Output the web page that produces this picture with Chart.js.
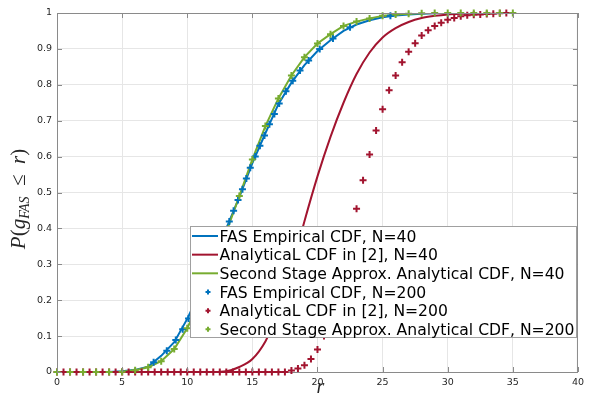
<!DOCTYPE html>
<html>
<head>
<meta charset="utf-8">
<script src="https://cdn.jsdelivr.net/npm/chart.js@4.4.1/dist/chart.umd.min.js"></script>
<style>
html, body { margin: 0; padding: 0; background: #fff; }
</style>
</head>
<body>
<canvas id="cdfChart" width="589" height="400"></canvas>
<script>
// r values for the N=40 curves (lines)
const rLine = [0, 1, 2, 3, 4, 5, 6, 7, 8, 9, 10, 11, 12, 13, 14, 15, 16, 17,
    18, 19, 20, 21, 22, 23, 24, 25, 26, 27, 28, 29, 30, 31, 32, 33, 34, 35];

// FAS Empirical CDF, N=40
const fasEmp40 = [0, 0, 0, 0, 0, 0.002, 0.006, 0.015, 0.045, 0.083, 0.148, 0.225,
    0.31, 0.40, 0.487, 0.582, 0.665, 0.746, 0.806, 0.855, 0.894, 0.924, 0.950,
    0.968, 0.980, 0.988, 0.993, 0.996, 0.998, 0.999, 1, 1, 1, 1, 1, 1];

// AnalyticaL CDF in [2], N=40
const analytic40 = [0, 0, 0, 0, 0, 0, 0, 0, 0, 0, 0, 0, 0, 0.002, 0.014, 0.036,
    0.085, 0.165, 0.285, 0.42, 0.545, 0.655, 0.75, 0.83, 0.89, 0.932, 0.958,
    0.975, 0.986, 0.992, 0.996, 0.998, 0.999, 1, 1, 1];

// Second Stage Approx. Analytical CDF, N=40
const secondStage40 = [0, 0, 0, 0, 0, 0.001, 0.005, 0.013, 0.03, 0.064, 0.122,
    0.20, 0.29, 0.39, 0.49, 0.592, 0.685, 0.762, 0.826, 0.877, 0.915, 0.941,
    0.964, 0.976, 0.985, 0.992, 0.996, 0.998, 0.999, 1, 1, 1, 1, 1, 1, 1];

// FAS Empirical CDF, N=200 (markers)
const fasEmp200R = [7.42, 8.43, 9.12, 9.65, 10.1, 10.5, 10.9, 11.3, 11.65, 12.0,
    12.35, 12.7, 12.95, 13.23, 13.56, 13.9, 14.24, 14.54, 14.84, 15.22, 15.58,
    15.93, 16.31, 16.69, 17.06, 17.58, 18.1, 18.66, 19.32, 20.17, 21.19, 22.5, 25.6];
const fasEmp200P = [0.027, 0.059, 0.089, 0.119, 0.149, 0.179, 0.209, 0.239, 0.269,
    0.299, 0.329, 0.359, 0.389, 0.419, 0.449, 0.479, 0.509, 0.539, 0.569, 0.6,
    0.63, 0.659, 0.69, 0.719, 0.748, 0.782, 0.811, 0.84, 0.868, 0.9, 0.929, 0.96, 0.992];

// AnalyticaL CDF in [2], N=200 (markers)
const analytic200R = [0, 0.5, 1, 1.5, 2, 2.5, 3, 3.5, 4, 4.5, 5, 5.5, 6, 6.5, 7, 7.5,
    8, 8.5, 9, 9.5, 10, 10.5, 11, 11.5, 12, 12.5, 13, 13.5, 14, 14.5, 15, 15.5,
    16, 16.5, 17, 17.5, 18, 18.5, 19, 19.5, 20, 20.5, 21, 21.5, 22, 22.5, 23, 23.5,
    24, 24.5, 25, 25.5, 26, 26.5, 27, 27.5, 28, 28.5, 29, 29.5, 30, 30.5, 31, 31.5,
    32, 32.5, 33, 33.5, 34, 34.5];
const analytic200P = [0, 0, 0, 0, 0, 0, 0, 0, 0, 0, 0, 0, 0, 0, 0, 0,
    0, 0, 0, 0, 0, 0, 0, 0, 0, 0, 0, 0, 0, 0, 0, 0,
    0, 0, 0, 0, 0.004, 0.010, 0.019, 0.036, 0.063, 0.10, 0.145, 0.205, 0.28, 0.365, 0.455, 0.534,
    0.606, 0.673, 0.732, 0.785, 0.826, 0.863, 0.892, 0.916, 0.937, 0.952, 0.964, 0.973, 0.981, 0.986, 0.991, 0.994,
    0.995, 0.996, 0.997, 0.998, 0.999, 1.0];

// Second Stage Approx. Analytical CDF, N=200 (markers)
const secondStage200 = [0, 0, 0, 0, 0, 0.001, 0.005, 0.013, 0.03, 0.064, 0.122,
    0.20, 0.29, 0.39, 0.49, 0.592, 0.685, 0.762, 0.826, 0.877, 0.915, 0.941,
    0.964, 0.976, 0.985, 0.992, 0.996, 0.998, 0.999, 1, 1, 1, 1, 1, 1, 1];

const xTicks = [0, 5, 10, 15, 20, 25, 30, 35, 40];
const yTicks = [0, 0.1, 0.2, 0.3, 0.4, 0.5, 0.6, 0.7, 0.8, 0.9, 1];

const legendLabels = [
    'FAS Empirical CDF, N=40',
    'AnalyticaL CDF in [2], N=40',
    'Second Stage Approx. Analytical CDF, N=40',
    'FAS Empirical CDF, N=200',
    'AnalyticaL CDF in [2], N=200',
    'Second Stage Approx. Analytical CDF, N=200'
];

const BLUE = '#0072BD';
const RED = '#A2142F';
const GREEN = '#77AC30';
const SANS = '"DejaVu Sans", sans-serif';
const SERIF = '"Liberation Serif", "DejaVu Serif", serif';

function pts(xs, ys) {
    return xs.map((x, i) => ({ x: x, y: ys[i] }));
}

function lineSet(label, xs, ys, color, smooth) {
    return {
        label: label,
        data: pts(xs, ys),
        showLine: true,
        borderColor: color,
        backgroundColor: color,
        borderWidth: 2,
        pointRadius: 0,
        cubicInterpolationMode: smooth ? 'monotone' : 'default',
        tension: 0
    };
}

function markerSet(label, xs, ys, color) {
    return {
        label: label,
        data: pts(xs, ys),
        showLine: false,
        pointStyle: 'cross',
        pointRadius: 3.5,
        pointBorderWidth: 2,
        borderColor: color,
        backgroundColor: color,
        clip: false
    };
}

const datasets = [
    lineSet(legendLabels[0], rLine, fasEmp40, BLUE, false),
    lineSet(legendLabels[1], rLine, analytic40, RED, true),
    lineSet(legendLabels[2], rLine, secondStage40, GREEN, false),
    markerSet(legendLabels[3], fasEmp200R, fasEmp200P, BLUE),
    markerSet(legendLabels[4], analytic200R, analytic200P, RED),
    markerSet(legendLabels[5], rLine, secondStage200, GREEN)
];
// MATLAB draws later series on top
datasets.forEach((d, i) => { d.order = datasets.length - i; });

// box around the axes, inward ticks, axis labels, legend
const axesDecor = {
    id: 'axesDecor',
    afterDatasetsDraw(chart) {
        const ctx = chart.ctx;
        const a = chart.chartArea;
        const xs = chart.scales.x, ys = chart.scales.y;
        ctx.save();
        ctx.strokeStyle = '#8a8a8a';
        ctx.lineWidth = 1;
        ctx.beginPath();
        ctx.moveTo(a.left, a.top + 0.5); ctx.lineTo(a.right, a.top + 0.5);
        ctx.moveTo(a.right - 0.5, a.top); ctx.lineTo(a.right - 0.5, a.bottom);
        xTicks.forEach(v => {
            const px = Math.round(xs.getPixelForValue(v)) + 0.5;
            ctx.moveTo(px, a.bottom); ctx.lineTo(px, a.bottom - 5);
            ctx.moveTo(px, a.top); ctx.lineTo(px, a.top + 5);
        });
        yTicks.forEach(v => {
            const py = Math.round(ys.getPixelForValue(v)) + 0.5;
            ctx.moveTo(a.left, py); ctx.lineTo(a.left + 5, py);
            ctx.moveTo(a.right, py); ctx.lineTo(a.right - 5, py);
        });
        ctx.stroke();
        ctx.restore();
    },
    afterDraw(chart) {
        const ctx = chart.ctx;
        const a = chart.chartArea;
        ctx.save();
        ctx.fillStyle = '#262626';
        // x label
        ctx.font = 'italic 20px ' + SERIF;
        ctx.textAlign = 'center';
        ctx.textBaseline = 'alphabetic';
        ctx.fillText('r', (a.left + a.right) / 2 + 3, 393);
        // y label, rotated, with subscript
        ctx.translate(25, 199);
        ctx.rotate(-Math.PI / 2);
        const big = 'italic 21px ' + SERIF;
        const small = 'italic 14px ' + SERIF;
        const parts = [
            { t: 'P', f: big, dy: 0 },
            { t: '(', f: '21px ' + SERIF, dy: 0 },
            { t: 'g', f: big, dy: 0 },
            { t: 'FAS', f: small, dy: 4 },
            { t: '  \u2264  ', f: '21px ' + SERIF, dy: 0 },
            { t: 'r', f: big, dy: 0 },
            { t: ')', f: '21px ' + SERIF, dy: 0 }
        ];
        let w = 0;
        parts.forEach(p => { ctx.font = p.f; w += ctx.measureText(p.t).width; });
        let x = -w / 2;
        ctx.textAlign = 'left';
        parts.forEach(p => {
            ctx.font = p.f;
            ctx.fillText(p.t, x, p.dy);
            x += ctx.measureText(p.t).width;
        });
        ctx.restore();

        // legend inside the axes
        const lx = 190, ly = 226, lw = 387, lh = 112;
        ctx.save();
        ctx.fillStyle = '#fff';
        ctx.fillRect(lx, ly, lw, lh);
        ctx.strokeStyle = '#a0a0a0';
        ctx.lineWidth = 1;
        ctx.strokeRect(lx + 0.5, ly + 0.5, lw - 1, lh - 1);
        ctx.font = '15.6px ' + SANS;
        ctx.textAlign = 'left';
        ctx.textBaseline = 'alphabetic';
        chart.data.datasets.forEach((d, i) => {
            const base = ly + 15.7 + i * 18.66;
            const my = base - 5.7;
            ctx.strokeStyle = d.borderColor;
            ctx.lineWidth = 2;
            ctx.beginPath();
            if (d.showLine) {
                ctx.moveTo(lx + 2, my);
                ctx.lineTo(lx + 28, my);
            } else {
                ctx.moveTo(lx + 15.5, my); ctx.lineTo(lx + 20.5, my);
                ctx.moveTo(lx + 18, my - 2.5); ctx.lineTo(lx + 18, my + 2.5);
            }
            ctx.stroke();
            ctx.fillStyle = '#000';
            ctx.fillText(d.label, lx + 29.5, base);
        });
        ctx.restore();
    }
};

const ctx = document.getElementById('cdfChart').getContext('2d');
const cdfChart = new Chart(ctx, {
    type: 'scatter',
    data: { datasets: datasets },
    options: {
        responsive: false,
        animation: false,
        devicePixelRatio: 1,
        layout: { padding: { top: 13, right: 4, left: 0, bottom: 0 } },
        plugins: {
            legend: { display: false },
            tooltip: { enabled: false }
        },
        scales: {
            x: {
                type: 'linear',
                min: 0,
                max: 40,
                afterFit: s => { s.height = 28; },
                afterBuildTicks: s => { s.ticks = xTicks.map(v => ({ value: v })); },
                ticks: {
                    padding: 5,
                    color: '#262626',
                    font: { family: SANS, size: 9.5 },
                    maxRotation: 0
                },
                grid: { color: '#e6e6e6', drawTicks: false },
                border: { color: '#8a8a8a' }
            },
            y: {
                type: 'linear',
                min: 0,
                max: 1,
                afterFit: s => { s.width = 57; },
                afterBuildTicks: s => { s.ticks = yTicks.map(v => ({ value: v })); },
                ticks: {
                    padding: 5,
                    color: '#262626',
                    font: { family: SANS, size: 9.5 },
                    callback: v => String(Math.round(v * 10) / 10)
                },
                grid: { color: '#e6e6e6', drawTicks: false },
                border: { color: '#8a8a8a' }
            }
        }
    },
    plugins: [axesDecor]
});
</script>
</body>
</html>
